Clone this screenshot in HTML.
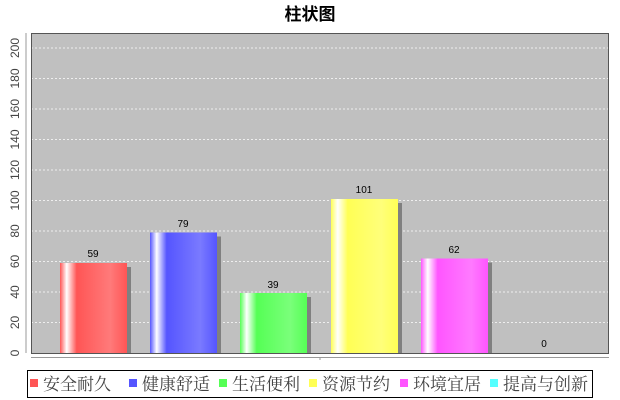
<!DOCTYPE html>
<html><head><meta charset="utf-8"><style>
html,body{margin:0;padding:0;background:#fff;}
svg{display:block;font-family:"Liberation Sans","Noto Sans CJK SC",sans-serif;}
</style></head><body>
<svg width="620" height="400" xmlns="http://www.w3.org/2000/svg">
<defs>
<linearGradient id="gr" x1="0" x2="1"><stop offset="0" stop-color="#ff5555"/><stop offset="0.1" stop-color="#fff"/><stop offset="0.25" stop-color="#ff5555"/><stop offset="0.75" stop-color="#ff7a7a"/><stop offset="1" stop-color="#ff5555"/></linearGradient>
<linearGradient id="gb" x1="0" x2="1"><stop offset="0" stop-color="#5555ff"/><stop offset="0.1" stop-color="#fff"/><stop offset="0.25" stop-color="#5555ff"/><stop offset="0.75" stop-color="#7a7aff"/><stop offset="1" stop-color="#5555ff"/></linearGradient>
<linearGradient id="gg" x1="0" x2="1"><stop offset="0" stop-color="#55ff55"/><stop offset="0.1" stop-color="#fff"/><stop offset="0.25" stop-color="#55ff55"/><stop offset="0.75" stop-color="#7aff7a"/><stop offset="1" stop-color="#55ff55"/></linearGradient>
<linearGradient id="gy" x1="0" x2="1"><stop offset="0" stop-color="#ffff55"/><stop offset="0.1" stop-color="#fff"/><stop offset="0.25" stop-color="#ffff55"/><stop offset="0.75" stop-color="#ffff7a"/><stop offset="1" stop-color="#ffff55"/></linearGradient>
<linearGradient id="gm" x1="0" x2="1"><stop offset="0" stop-color="#ff55ff"/><stop offset="0.1" stop-color="#fff"/><stop offset="0.25" stop-color="#ff55ff"/><stop offset="0.75" stop-color="#ff7aff"/><stop offset="1" stop-color="#ff55ff"/></linearGradient>
</defs>
<text x="310" y="20" text-anchor="middle" font-size="17" font-weight="bold">柱状图</text>
<rect x="31" y="33" width="578" height="320" fill="#c0c0c0"/>
<g stroke="#eee" stroke-width="1" stroke-dasharray="2,2">
<line x1="31" x2="609" y1="322.5" y2="322.5"/><line x1="31" x2="609" y1="292" y2="292"/>
<line x1="31" x2="609" y1="261.5" y2="261.5"/><line x1="31" x2="609" y1="231" y2="231"/>
<line x1="31" x2="609" y1="200.5" y2="200.5"/><line x1="31" x2="609" y1="170" y2="170"/>
<line x1="31" x2="609" y1="139.5" y2="139.5"/><line x1="31" x2="609" y1="109" y2="109"/>
<line x1="31" x2="609" y1="78.5" y2="78.5"/><line x1="31" x2="609" y1="48" y2="48"/>
</g>
<rect x="31.5" y="33.5" width="577" height="320" fill="none" stroke="#555" stroke-width="1"/>
<g fill="#808080">
<rect x="64" y="267" width="67" height="86"/>
<rect x="154" y="236.5" width="67" height="116.5"/>
<rect x="244" y="297" width="67" height="56"/>
<rect x="335" y="203" width="67" height="150"/>
<rect x="425" y="262.5" width="67" height="90.5"/>
</g>
<rect x="60" y="263" width="67" height="90" fill="url(#gr)"/>
<rect x="150" y="232.5" width="67" height="120.5" fill="url(#gb)"/>
<rect x="240" y="293" width="67" height="60" fill="url(#gg)"/>
<rect x="331" y="199" width="67" height="154" fill="url(#gy)"/>
<rect x="421" y="258.5" width="67" height="94.5" fill="url(#gm)"/>
<g font-size="10" text-anchor="middle">
<text x="93" y="257">59</text><text x="183" y="227">79</text><text x="273" y="288">39</text>
<text x="364" y="193">101</text><text x="454" y="253">62</text><text x="544" y="347">0</text>
</g>
<g stroke="#999"><line x1="26" x2="26" y1="33" y2="353"/>
<line x1="31" x2="609" y1="357.5" y2="357.5"/><line x1="320" x2="320" y1="357" y2="360"/></g>
<g font-size="12" fill="#444" text-anchor="middle">
<text transform="translate(19,353) rotate(-90)">0</text>
<text transform="translate(19,322.5) rotate(-90)">20</text>
<text transform="translate(19,292) rotate(-90)">40</text>
<text transform="translate(19,261.5) rotate(-90)">60</text>
<text transform="translate(19,231) rotate(-90)">80</text>
<text transform="translate(19,200.5) rotate(-90)">100</text>
<text transform="translate(19,170) rotate(-90)">120</text>
<text transform="translate(19,139.5) rotate(-90)">140</text>
<text transform="translate(19,109) rotate(-90)">160</text>
<text transform="translate(19,78.5) rotate(-90)">180</text>
<text transform="translate(19,48) rotate(-90)">200</text>
</g>
<rect x="27.5" y="370.5" width="565" height="27" fill="#fff" stroke="#000"/>
<g font-size="17" fill="#444" font-family="'Noto Serif CJK SC',serif">
<rect x="30" y="379" width="8" height="8" fill="#ff5555"/><text x="43" y="390">安全耐久</text>
<rect x="129" y="379" width="8" height="8" fill="#5555ff"/><text x="142" y="390">健康舒适</text>
<rect x="219" y="379" width="8" height="8" fill="#55ff55"/><text x="232" y="390">生活便利</text>
<rect x="309" y="379" width="8" height="8" fill="#ffff55"/><text x="322" y="390">资源节约</text>
<rect x="400" y="379" width="8" height="8" fill="#ff55ff"/><text x="413" y="390">环境宜居</text>
<rect x="490" y="379" width="8" height="8" fill="#55ffff"/><text x="503" y="390">提高与创新</text>
</g>
</svg>
</body></html>
